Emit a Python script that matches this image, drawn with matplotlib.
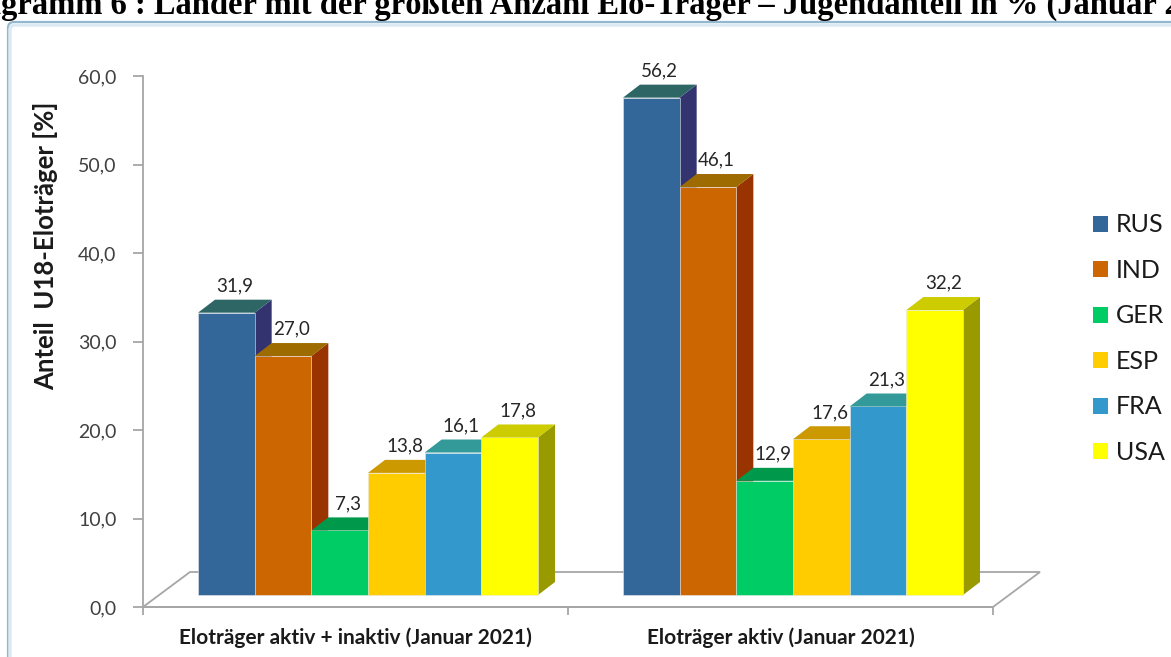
import numpy as np
import matplotlib.pyplot as plt
from matplotlib.patches import Polygon, Rectangle, FancyBboxPatch, Patch
from matplotlib.transforms import IdentityTransform

countries = ['RUS', 'IND', 'GER', 'ESP', 'FRA', 'USA']
groups = ['Eloträger aktiv + inaktiv (Januar 2021)', 'Eloträger aktiv (Januar 2021)']
active_inactive = [31.9, 27.0, 7.3, 13.8, 16.1, 17.8]
active_only = [56.2, 46.1, 12.9, 17.6, 21.3, 32.2]
yticks = [0, 10, 20, 30, 40, 50, 60]

front_colors = ['#336699', '#CC6600', '#00CC66', '#FFCC00', '#3399CC', '#FFFF00']
top_colors = ['#2E6666', '#9E6B00', '#00994C', '#CC9900', '#339999', '#CCCC00']
side_colors = ['#333370', '#993300', '#008040', '#B38F00', '#2A7AA3', '#999900']

title = 'Diagramm 6 : Länder mit der größten Anzahl Elo-Träger – Jugendanteil in % (Januar 2021)'

W, H = 1171, 657
plt.rcParams['font.family'] = ['Lato', 'DejaVu Sans']

fig = plt.figure(figsize=(W / 100, H / 100), dpi=100)
fig.patch.set_facecolor('white')

# rounded frame around the chart area
frame = FancyBboxPatch((8, -30), 1250, 665, boxstyle='round,pad=0,rounding_size=6',
                       transform=IdentityTransform(), facecolor='none',
                       edgecolor='#93B7CF', linewidth=1.6, zorder=-5)
fig.patches.append(frame)
inner = FancyBboxPatch((10, -30), 1250, 662, boxstyle='round,pad=0,rounding_size=5',
                       transform=IdentityTransform(), facecolor='none',
                       edgecolor='#DCEAF3', linewidth=2.5, zorder=-5)
fig.patches.append(inner)

# heading, cut off by the top edge
t = fig.text(0, 1 - 14 / H, 'Dia', fontsize=23.5, fontweight='bold',
             family='Liberation Serif', va='baseline')
fig.canvas.draw()
w_dia = t.get_window_extent().width
t.remove()
fig.text(-w_dia / W + 0.001, 1 - 14 / H, title, fontsize=23.5, fontweight='bold',
         family='Liberation Serif', va='baseline', color='black')

ax = fig.add_axes([143 / W, 1 - 607 / H, 850 / W, 531 / H])
ax.set_xlim(0, 2)
ax.set_ylim(0, 60)
ax.patch.set_alpha(0)

px_x = 850 / 2
px_y = 531 / 60
dx0, dy0 = 12.5 / px_x, 12 / px_y   # bar base offset on the floor
dxb, dyb = 17 / px_x, 13 / px_y     # bar depth
dxf, dyf = 47 / px_x, 35 / px_y     # floor depth

# floor
floor = Polygon([(0, 0), (dxf, dyf), (2 + dxf, dyf), (2, 0)], closed=True,
                facecolor='white', edgecolor='#A6A6A6', linewidth=1.3,
                clip_on=False, zorder=1)
ax.add_patch(floor)

bar_w = 0.8 / len(countries)


def bar3d(x, h, i):
    x0, y0 = x + dx0, dy0
    y1 = h + dy0
    side = Polygon([(x0 + bar_w, y0), (x0 + bar_w + dxb, y0 + dyb),
                    (x0 + bar_w + dxb, y1 + dyb), (x0 + bar_w, y1)],
                   facecolor=side_colors[i], edgecolor='none', clip_on=False, zorder=2)
    front = Rectangle((x0, y0), bar_w, h, facecolor=front_colors[i],
                      edgecolor='#E8E8E8', linewidth=0.4, clip_on=False, zorder=2)
    top = Polygon([(x0, y1), (x0 + dxb, y1 + dyb), (x0 + bar_w + dxb, y1 + dyb),
                   (x0 + bar_w, y1)], facecolor=top_colors[i], edgecolor='none',
                  clip_on=False, zorder=2)
    for p in (side, front, top):
        ax.add_patch(p)
    ax.text(x0 + bar_w / 2 + dxb / 2, y1 + dyb + 0.6, f'{h:.1f}'.replace('.', ','),
            ha='center', va='bottom', fontsize=13.5, color='#262626', zorder=3)


for g, vals in enumerate([active_inactive, active_only]):
    start = g + 0.1
    for i, v in enumerate(vals):
        bar3d(start + i * bar_w, v, i)

# axes styling
for s in ('top', 'right'):
    ax.spines[s].set_visible(False)
for s in ('left', 'bottom'):
    ax.spines[s].set_color('#A6A6A6')
    ax.spines[s].set_linewidth(1.3)
ax.set_yticks(yticks)
ax.set_yticklabels([f'{v:.1f}'.replace('.', ',') for v in yticks])
ax.tick_params(axis='y', colors='#A6A6A6', labelcolor='#404040', labelsize=14,
               length=7, width=1.3, pad=12)
ax.set_xticks([0, 1, 2])
ax.set_xticklabels([])
ax.tick_params(axis='x', which='major', colors='#A6A6A6', length=6, width=1.3)
ax.set_xticks([0.5, 1.5], minor=True)
ax.set_xticklabels(groups, minor=True, fontsize=15, fontweight='bold', color='#1A1A1A')
ax.tick_params(axis='x', which='minor', length=0, pad=15)
ax.set_ylabel('Anteil  U18-Eloträger [%]', fontsize=18.5, fontweight='bold',
              color='#1A1A1A')
ax.yaxis.set_label_coords(-0.1, 0.68)

handles = [Patch(facecolor=c, edgecolor='none') for c in front_colors]
fig.legend(handles, countries, loc='upper left', bbox_to_anchor=(1070 / W, 1 - 191 / H),
           frameon=False, fontsize=18, handlelength=0.6, handleheight=0.6,
           handletextpad=0.35, labelspacing=0.9, labelcolor='#1A1A1A')

fig.savefig('out.png', dpi=100)
